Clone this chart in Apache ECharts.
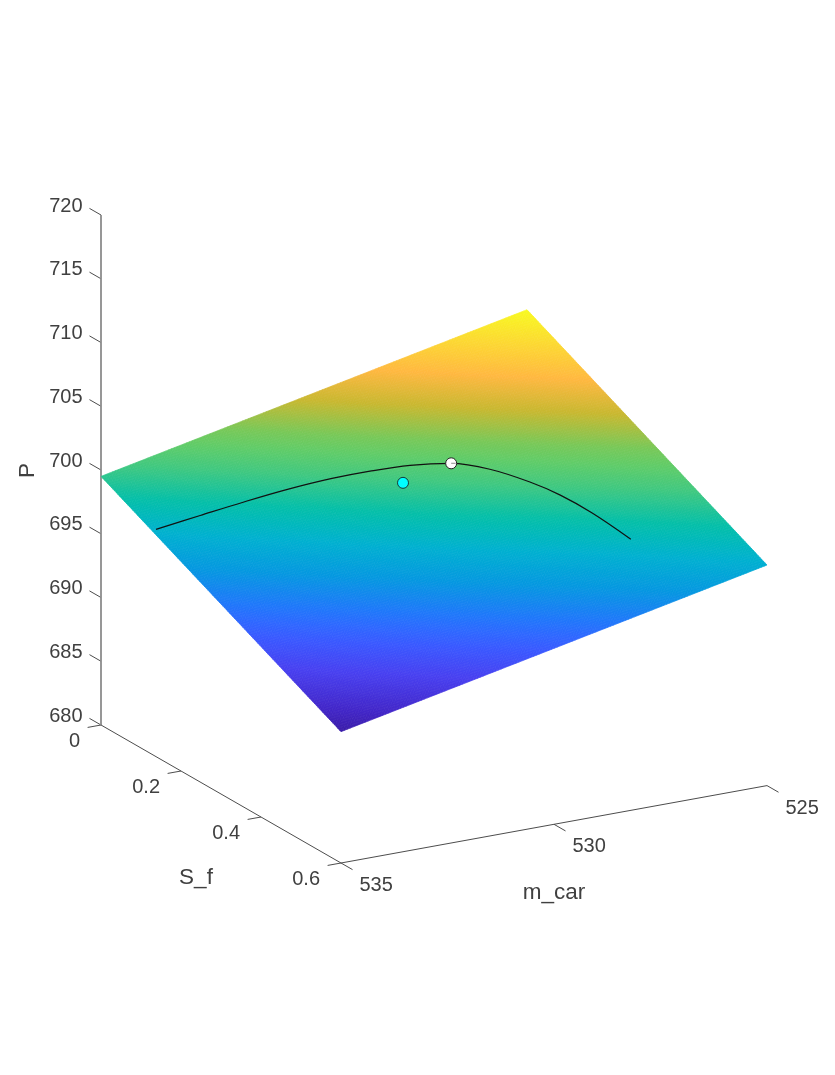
<!DOCTYPE html>
<html><head><meta charset="utf-8">
<style>html,body{margin:0;padding:0;background:#fff}#c{width:835px;height:1075px}</style>
<script src="https://cdn.jsdelivr.net/npm/echarts@6/dist/echarts.min.js"></script>
</head><body><div id="c"></div>
<script>
// ---------- data ----------
const mCarTicks = [535, 530, 525];
const sFTicks = [0, 0.2, 0.4, 0.6];
const pTicks = [680, 685, 690, 695, 700, 705, 710, 715, 720];
const sFTickLabels = ['0', '0.2', '0.4', '0.6'];
const mCarTickLabels = ['535', '530', '525'];
const pTickLabels = ['680', '685', '690', '695', '700', '705', '710', '715', '720'];

const surfaceM = [535, 532.5, 530, 527.5, 525];
const surfaceS = [0, 0.15, 0.3, 0.45, 0.6];
const surfaceP = [
  [699.50, 701.25, 703.00, 704.75, 706.50],
  [697.20, 699.00, 700.78, 702.50, 704.20],
  [694.90, 696.72, 698.55, 700.22, 701.90],
  [692.60, 694.40, 696.18, 697.90, 699.60],
  [690.30, 692.05, 693.80, 695.55, 697.30]
];
const lineM = [534.91, 533.93, 532.96, 531.99, 531.07, 530.30, 529.52, 528.78, 528.21, 527.73, 527.42, 527.16, 526.92];
const lineS = [0.128, 0.134, 0.140, 0.148, 0.159, 0.172, 0.189, 0.213, 0.249, 0.298, 0.341, 0.393, 0.464];
const lineP = [697.60, 698.20, 698.78, 699.34, 699.82, 700.16, 700.45, 700.59, 700.43, 700.02, 699.58, 698.96, 698.04];
const optimumPoint = [528.78, 0.213, 700.59];
const samplePoint = [529.92, 0.214, 699.77];

// ---------- view and colormap ----------
const colorStops = [
  [0.00, 0x3a, 0x1c, 0xa8], [0.05, 0x42, 0x26, 0xc8], [0.138, 0x48, 0x40, 0xf0], [0.208, 0x3a, 0x58, 0xff],
  [0.247, 0x2e, 0x68, 0xff], [0.286, 0x1f, 0x78, 0xfa], [0.363, 0x05, 0x98, 0xe0], [0.440, 0x00, 0xb0, 0xd0],
  [0.479, 0x00, 0xb8, 0xbc], [0.519, 0x05, 0xbf, 0xa8], [0.595, 0x40, 0xc8, 0x80], [0.650, 0x60, 0xcc, 0x68],
  [0.690, 0x78, 0xc8, 0x58], [0.766, 0xc8, 0xb8, 0x30], [0.843, 0xff, 0xb8, 0x40], [0.920, 0xfc, 0xd8, 0x32],
  [1.00, 0xf8, 0xfa, 0x20]
];
const VIEW = { ox: 101, oy: 725, sx: 240, sy: 138, mx: 426, my: -77.4, pz: 12.75 };
function project(m, s, p) {
  const u = s / 0.6, v = (535 - m) / 10;
  return [VIEW.ox + VIEW.sx * u + VIEW.mx * v, VIEW.oy + VIEW.sy * u + VIEW.my * v + VIEW.pz * (680 - p)];
}
const flatP = surfaceP.flat();
const cMin = Math.min.apply(null, flatP), cMax = Math.max.apply(null, flatP);
function colorOf(p) {
  const t = Math.max(0, Math.min(1, (p - cMin) / (cMax - cMin)));
  let i = 0;
  while (i < colorStops.length - 2 && t > colorStops[i + 1][0]) i++;
  const A = colorStops[i], B = colorStops[i + 1], f = (t - A[0]) / (B[0] - A[0]);
  return 'rgb(' + [1, 2, 3].map(k => Math.round(A[k] + (B[k] - A[k]) * f)).join(',') + ')';
}

// ---------- surface: one data item per grid cell, shaded like "shading interp" ----------
const SHADE = 36;
const cells = [];
for (let r = 0; r < surfaceS.length - 1; r++) for (let c = 0; c < surfaceM.length - 1; c++) cells.push([r, c]);
function renderCell(params, api) {
  const r = api.value(0), c = api.value(1), kids = [];
  const vert = (a, b) => {
    const ta = a / SHADE, tb = b / SHADE;
    const p = (surfaceP[r][c] * (1 - ta) + surfaceP[r + 1][c] * ta) * (1 - tb) + (surfaceP[r][c + 1] * (1 - ta) + surfaceP[r + 1][c + 1] * ta) * tb;
    const s = surfaceS[r] + (surfaceS[r + 1] - surfaceS[r]) * ta;
    const m = surfaceM[c] + (surfaceM[c + 1] - surfaceM[c]) * tb;
    return { p: p, xy: api.coord(project(m, s, p)) };
  };
  for (let a = 0; a < SHADE; a++) for (let b = 0; b < SHADE; b++) {
    const q = [vert(a, b), vert(a + 1, b), vert(a + 1, b + 1), vert(a, b + 1)];
    const col = colorOf((q[0].p + q[1].p + q[2].p + q[3].p) / 4);
    kids.push({ type: 'polygon', shape: { points: q.map(o => o.xy) }, style: { fill: col, stroke: col, lineWidth: 0.7 }, silent: true });
  }
  return { type: 'group', children: kids, silent: true };
}

// ---------- axes ----------
const TEXT = '#404040', FONT = '"Liberation Sans", Arial, sans-serif';
const axisItems = [];
mCarTicks.forEach((v, i) => axisItems.push({ a: [v, 0.6, 680], b: [v, 0.6288, 680], label: mCarTickLabels[i], dx: 18.5, dy: 22.5, align: 'left' }));
sFTicks.forEach((v, i) => axisItems.push({ a: [535, v, 680], b: [535.314, v, 680], label: sFTickLabels[i], dx: -21, dy: 16.5, align: 'right' }));
pTicks.forEach((v, i) => axisItems.push({ a: [535, 0, v], b: [535, -0.0288, v], label: pTickLabels[i], dx: -18.5, dy: -9, align: 'right' }));
function renderAxisItem(params, api) {
  const it = axisItems[params.dataIndex];
  const a = api.coord(project.apply(null, it.a)), b = api.coord(project.apply(null, it.b));
  return { type: 'group', silent: true, children: [
    { type: 'line', shape: { x1: a[0], y1: a[1], x2: b[0], y2: b[1] }, style: { stroke: '#4d4d4d', lineWidth: 1 } },
    { type: 'text', x: a[0] + it.dx, y: a[1] + it.dy, style: { text: it.label, fill: TEXT, font: '20px ' + FONT, textAlign: it.align, textVerticalAlign: 'middle' } }
  ] };
}
const axisLine = (pts, color, width) => ({
  type: 'line', data: pts.map(p => project.apply(null, p)), symbol: 'none', silent: true, z: 1,
  lineStyle: { color: color, width: width }
});
const titles = [
  { text: 'm_car', at: [554, 892.5], rot: 0 },
  { text: 'S_f', at: [196, 877.5], rot: 0 },
  { text: 'P', at: [27.5, 470.5], rot: Math.PI / 2 }
];
const lineData = lineM.map((m, i) => project(m, lineS[i], lineP[i]));

const chart = echarts.init(document.getElementById('c'), null, { renderer: 'canvas' });
chart.setOption({
  animation: false,
  backgroundColor: '#fff',
  tooltip: { show: false },
  grid: { left: 0, right: 0, top: 0, bottom: 0, containLabel: false },
  xAxis: { type: 'value', min: 0, max: 835, show: false },
  yAxis: { type: 'value', min: 0, max: 1075, inverse: true, show: false },
  series: [
    axisLine([[535, 0, 680], [535, 0, 720]], '#8c8c8c', 1.8),
    axisLine([[535, 0, 680], [535, 0.6, 680]], '#4d4d4d', 1),
    axisLine([[535, 0.6, 680], [525, 0.6, 680]], '#4d4d4d', 1),
    { type: 'custom', data: axisItems.map((d, i) => [i]), renderItem: renderAxisItem, silent: true, z: 1, clip: false },
    { type: 'custom', data: titles.map((d, i) => [i]), silent: true, z: 1, clip: false,
      renderItem: (params, api) => {
        const t = titles[params.dataIndex], p = api.coord(t.at);
        return { type: 'text', x: p[0], y: p[1], rotation: t.rot, style: { text: t.text, fill: TEXT, font: '22.5px ' + FONT, textAlign: 'center', textVerticalAlign: 'middle' } };
      } },
    { type: 'custom', data: cells, renderItem: renderCell, silent: true, z: 2, progressive: 0, clip: false },
    { type: 'line', data: lineData, smooth: 0.35, symbol: 'none', silent: true, z: 3, lineStyle: { color: '#111', width: 1.2 } },
    { type: 'scatter', data: [project.apply(null, samplePoint)], symbol: 'circle', symbolSize: 11, silent: true, z: 4, itemStyle: { color: '#00ffff', borderColor: '#143c3c', borderWidth: 1, opacity: 1 } },
    { type: 'scatter', data: [project.apply(null, optimumPoint)], symbol: 'circle', symbolSize: 11, silent: true, z: 4, itemStyle: { color: '#ffffff', borderColor: '#222', borderWidth: 1, opacity: 1 } },
    { type: 'custom', data: [project.apply(null, optimumPoint)], silent: true, z: 5, clip: false,
      renderItem: (params, api) => {
        const c = api.coord([api.value(0), api.value(1)]);
        return { type: 'line', shape: { x1: c[0], y1: c[1], x2: c[0] + 4.5, y2: c[1] }, style: { stroke: '#a0a0a0', lineWidth: 1.2 } };
      } }
  ]
});
</script></body></html>
